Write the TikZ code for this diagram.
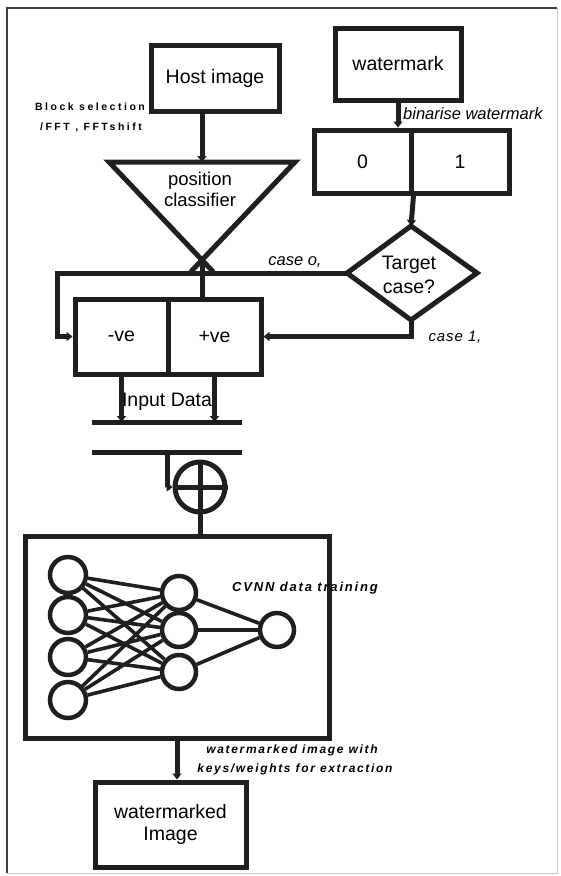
\documentclass[tikz,border=0pt]{standalone}
\usepackage{fontspec}
\setmainfont{Liberation Sans}
\newfontfamily\lsA[LetterSpace=24]{Liberation Sans}
\newfontfamily\lsB[LetterSpace=14]{Liberation Sans}
\newfontfamily\lsC[LetterSpace=6]{Liberation Sans}
\usetikzlibrary{arrows.meta,shapes.geometric}
\begin{document}
\begin{tikzpicture}[x=1pt,y=-1pt,
  ink/.style={draw=black!88, line width=5pt},
  box/.style={ink, rectangle, inner sep=0pt, align=center, font=\fontsize{19.5}{22}\selectfont},
  conn/.style={draw=black!88, line width=5pt},
  arr/.style={conn, -{Triangle[length=6pt,width=9pt]}},
  nn/.style={circle, draw=black!88, line width=4.5pt, inner sep=0pt},
  nnedge/.style={draw=black!88, line width=3.6pt},
  lbl/.style={inner sep=0pt, align=center}]
\useasboundingbox (0,0) rectangle (560,876);
% frame
\draw[black!75, line width=1.6pt] (7,873) -- (7,8) -- (557,8);
\draw[black!20, line width=1pt] (557,8) -- (557,873) -- (7,873);

% boxes
\node[box, minimum width=128pt, minimum height=66pt] (host) at (215,78) {Host image};
\node[box, minimum width=126pt, minimum height=72pt] (wm) at (398,64) {watermark};
\node[box, minimum width=97pt, minimum height=63pt] (zero) at (362.5,161.5) {0};
\node[box, minimum width=98pt, minimum height=63pt] (one) at (460,161.5) {1};
\node[box, minimum width=93pt, minimum height=75pt] (neg) at (121.5,336.5) {-ve};
\node[box, minimum width=93pt, minimum height=75pt] (pos) at (214.5,336.5) {+ve};
\node[box, minimum width=304pt, minimum height=202pt] (cvnn) at (177,637) {};
\node[box, minimum width=151pt, minimum height=85pt] (wmi) at (170.5,824.5) {watermarked\\Image};

% triangle (position classifier)
\coordinate (tl) at (109,162);
\coordinate (tr) at (295,162);
\coordinate (apex) at (202,260);
\coordinate (tritop) at (202,162);
\draw[ink, line join=miter] (tl) -- (tr) -- (apex) -- cycle;
\draw[conn] (apex) -- (190.6,272);
\draw[conn] (apex) -- (213.4,272);
\node[lbl, font=\fontsize{18.5}{21}\selectfont] (pctext) at (200,189) {position\\classifier};

% diamond
\coordinate (dtop) at (411,226);
\coordinate (dleft) at (347,273);
\coordinate (dright) at (477,273);
\coordinate (dbot) at (411,320);
\draw[ink, line join=miter] (dtop) -- (dright) -- (dbot) -- (dleft) -- cycle;
\node[lbl, font=\fontsize{19.5}{24}\selectfont] (dtext) at (409,275) {Target\\case?};

% labels
\node[lbl, font=\lsA\bfseries\fontsize{10.5}{12}\selectfont] (blk1) at (90,107) {Block selection};
\node[lbl, font=\lsA\bfseries\fontsize{10.5}{12}\selectfont] (blk2) at (91,128) {/FFT , FFTshift};
\node[lbl, anchor=west, font=\itshape\fontsize{16.5}{19}\selectfont] (bin) at (403,114) {binarise watermark};
\node[lbl, font=\itshape\fontsize{16.5}{19}\selectfont] (c0) at (295,262) {case o,};
\node[lbl, font=\lsC\itshape\fontsize{15}{18}\selectfont] (c1) at (455,337) {case 1,};
\node[lbl, font=\fontsize{19.5}{22}\selectfont] (inp) at (167,402) {Input Data};

% connectors top
\draw[arr] (tritop |- host.south) -- (tritop);
\draw[arr] (wm.south) -- (wm.south |- zero.north);
\draw[arr] (zero.south east) -- (dtop);
\draw[arr] (dleft) -- (57,273) |- (neg.west);
\draw[conn] (apex) -- (apex |- pos.north);
\draw[arr] (dbot) |- (pos.east);

% bars
\coordinate (b1l) at (92,422);
\coordinate (b1r) at (242,422);
\coordinate (b2l) at (92,452);
\coordinate (b2r) at (242,452);
\draw[draw=black!88, line width=5pt] (b1l) -- (b1r);
\draw[draw=black!88, line width=5pt] (b2l) -- (b2r);
\draw[arr] (neg.south) -- (neg.south |- b1l);
\draw[arr] (pos.south) -- (pos.south |- b1l);

% sum circle
\node[circle, ink, minimum size=50pt, inner sep=0pt] (circ) at (200,487) {};
\draw[conn] (circ.north) -- (circ.south);
\draw[conn] (circ.west) -- (circ.east);
\coordinate (b2x) at (167,452);
\draw[arr] (b2x) |- (circ.west);
\draw[conn] (circ.south) -- (circ.south |- cvnn.north);

% neural net
\foreach \i/\y in {1/575,2/615,3/657,4/700}
  \node[nn, minimum size=36pt] (i\i) at (68,\y) {};
\foreach \i/\y in {1/593,2/630,3/672}
  \node[nn, minimum size=34pt] (h\i) at (179,\y) {};
\node[nn, minimum size=34pt] (o) at (277,630) {};
\foreach \a in {1,2,3,4}
  \foreach \b in {1,2,3}
    \draw[nnedge] (i\a) -- (h\b);
\foreach \b in {1,2,3}
  \draw[nnedge] (h\b) -- (o);
\node[lbl, font=\lsB\bfseries\itshape\fontsize{13}{15}\selectfont] (cvt) at (305,588) {CVNN data training};

% output
\draw[arr] (cvnn.south) -- (cvnn.south |- wmi.north);
\node[lbl, font=\lsB\bfseries\itshape\fontsize{12}{14}\selectfont] (wt1) at (292,750) {watermarked image with};
\node[lbl, font=\lsB\bfseries\itshape\fontsize{12}{14}\selectfont] (wt2) at (295,769) {keys/weights for extraction};
\end{tikzpicture}
\end{document}
